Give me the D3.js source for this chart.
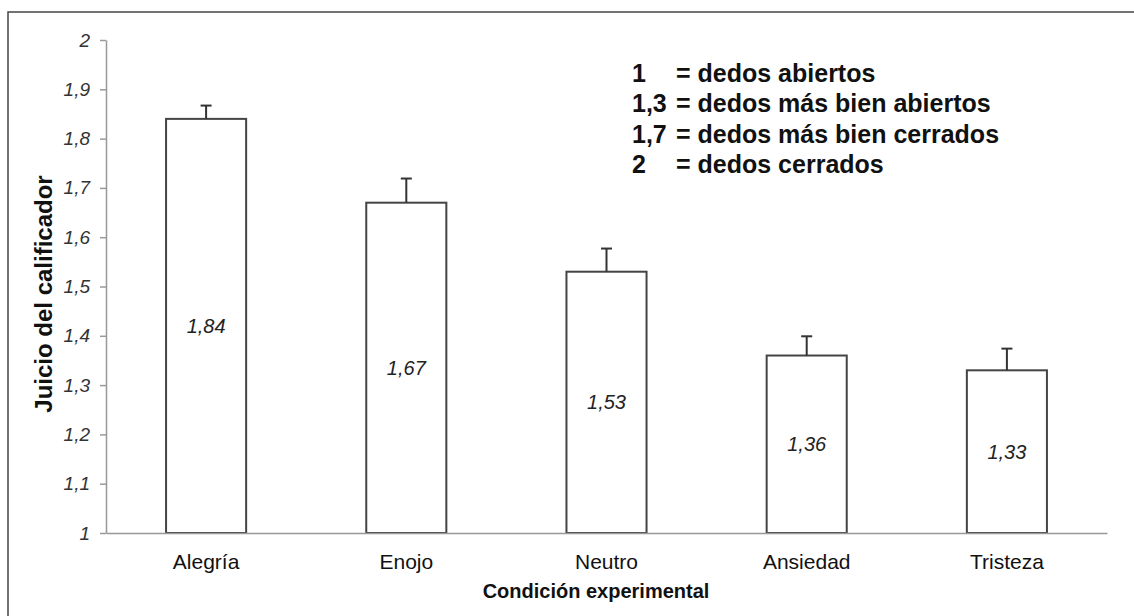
<!DOCTYPE html>
<html>
<head>
<meta charset="utf-8">
<script src="https://cdn.jsdelivr.net/npm/d3@7"></script>
<style>
  html, body { margin: 0; padding: 0; background: #fff; }
  svg { display: block; }
  text { font-family: Arial, "Liberation Sans", sans-serif; }
</style>
</head>
<body>
<svg id="chart" width="1134" height="616"></svg>
<script>
const categories = ["Alegría", "Enojo", "Neutro", "Ansiedad", "Tristeza"];
const means = [1.84, 1.67, 1.53, 1.36, 1.33];
const errors = [0.027, 0.049, 0.047, 0.039, 0.044];
const valueLabels = ["1,84", "1,67", "1,53", "1,36", "1,33"];
const yTickValues = [1, 1.1, 1.2, 1.3, 1.4, 1.5, 1.6, 1.7, 1.8, 1.9, 2];
const yTickLabels = ["1", "1,1", "1,2", "1,3", "1,4", "1,5", "1,6", "1,7", "1,8", "1,9", "2"];
const legendKeys = ["1", "1,3", "1,7", "2"];
const legendTexts = ["= dedos abiertos", "= dedos más bien abiertos", "= dedos más bien cerrados", "= dedos cerrados"];
const yTitle = "Juicio del calificador";
const xTitle = "Condición experimental";

const svg = d3.select("#chart");

// outer frame
svg.append("rect")
  .attr("x", 8).attr("y", 12)
  .attr("width", 1140).attr("height", 620)
  .attr("fill", "none").attr("stroke", "#444").attr("stroke-width", 1.5);

const x = d3.scaleBand().domain(categories).range([106, 1107]).paddingInner(0.6).paddingOuter(0.3);
const y = d3.scaleLinear().domain([1, 2]).range([533, 40]);

// y axis
const yAxis = d3.axisLeft(y)
  .tickValues(yTickValues)
  .tickFormat((d, i) => yTickLabels[i])
  .tickSize(6).tickSizeOuter(0).tickPadding(10);
const gy = svg.append("g").attr("transform", "translate(106,0)").call(yAxis);
gy.select(".domain").attr("stroke", "#999").attr("stroke-width", 1.5);
gy.selectAll(".tick line").attr("stroke", "#999").attr("stroke-width", 1.5);
gy.selectAll(".tick text")
  .attr("font-size", 19).attr("font-style", "italic").attr("fill", "#333")
  .attr("font-family", "Arial, 'Liberation Sans', sans-serif");

// bars
const bars = svg.append("g");
categories.forEach((c, i) => {
  bars.append("rect")
    .attr("x", x(c)).attr("y", y(means[i]))
    .attr("width", x.bandwidth()).attr("height", y(1) - y(means[i]))
    .attr("fill", "#fff").attr("stroke", "#444").attr("stroke-width", 2);
  const cx = x(c) + x.bandwidth() / 2;
  bars.append("line")
    .attr("x1", cx).attr("x2", cx)
    .attr("y1", y(means[i])).attr("y2", y(means[i] + errors[i]))
    .attr("stroke", "#333").attr("stroke-width", 2);
  bars.append("line")
    .attr("x1", cx - 5.5).attr("x2", cx + 5.5)
    .attr("y1", y(means[i] + errors[i])).attr("y2", y(means[i] + errors[i]))
    .attr("stroke", "#333").attr("stroke-width", 2);
  bars.append("text")
    .attr("x", cx).attr("y", (y(means[i]) + y(1)) / 2)
    .attr("dy", "0.35em")
    .attr("text-anchor", "middle")
    .attr("font-size", 20).attr("font-style", "italic").attr("fill", "#222")
    .text(valueLabels[i]);
});

// x axis
const xAxis = d3.axisBottom(x).tickSize(0).tickSizeOuter(0).tickPadding(21);
const gx = svg.append("g").attr("transform", "translate(0,533)").call(xAxis);
gx.select(".domain").attr("stroke", "#999").attr("stroke-width", 1.5);
gx.selectAll(".tick text")
  .attr("font-size", 21).attr("fill", "#111")
  .attr("font-family", "Arial, 'Liberation Sans', sans-serif");

// axis titles
svg.append("text")
  .attr("transform", "translate(52,294) rotate(-90)")
  .attr("text-anchor", "middle")
  .attr("font-size", 24).attr("font-weight", "bold").attr("fill", "#111")
  .text(yTitle);
svg.append("text")
  .attr("x", 596).attr("y", 598)
  .attr("text-anchor", "middle")
  .attr("font-size", 20).attr("font-weight", "bold").attr("fill", "#111")
  .text(xTitle);

// legend
const leg = svg.append("g");
legendKeys.forEach((k, i) => {
  const by = 82 + i * 30.3;
  leg.append("text").attr("x", 632).attr("y", by)
    .attr("font-size", 25).attr("font-weight", "bold").attr("fill", "#111").text(k);
  leg.append("text").attr("x", 676).attr("y", by)
    .attr("font-size", 25).attr("font-weight", "bold").attr("fill", "#111").text(legendTexts[i]);
});
</script>
</body>
</html>
